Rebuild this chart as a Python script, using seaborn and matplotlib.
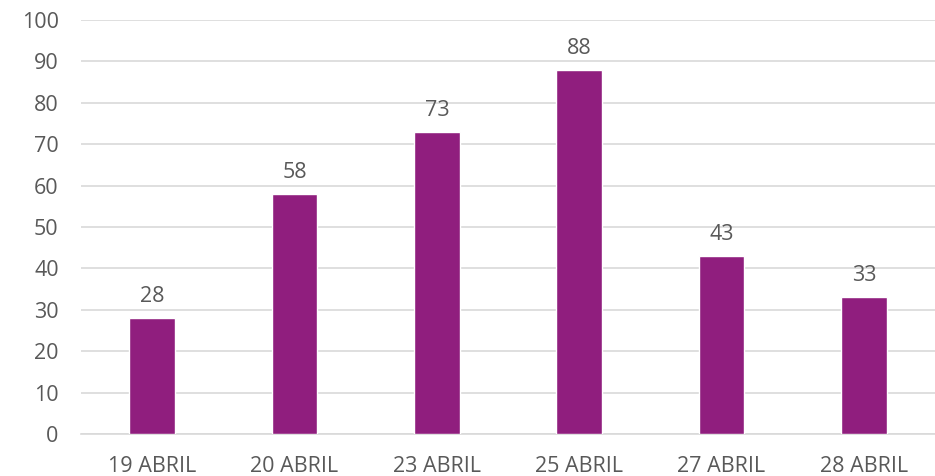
import matplotlib
matplotlib.use("Agg")
import pandas as pd
import seaborn as sns
import matplotlib.pyplot as plt

# data
dias = ["19 ABRIL", "20 ABRIL", "23 ABRIL", "25 ABRIL", "27 ABRIL", "28 ABRIL"]
valores = [28, 58, 73, 88, 43, 33]
yticks = list(range(0, 101, 10))

df = pd.DataFrame({"dia": dias, "valor": valores})

sns.set_theme(style="white")
plt.rcParams["font.family"] = ["Open Sans", "DejaVu Sans"]

text_col = "#595959"
grid_col = "#D9D9D9"

fig = plt.figure(figsize=(9.35, 4.76), dpi=100)
ax = fig.add_axes([0.0866, 0.088, 0.9134, 0.87])

sns.barplot(data=df, x="dia", y="valor", color="#901E7E", width=0.32,
            saturation=1, ax=ax, zorder=3)

ax.set_ylim(0, 100)
ax.set_yticks(yticks)
ax.set_xlim(-0.5, len(dias) - 0.5)
ax.set_xlabel("")
ax.set_ylabel("")

ax.yaxis.grid(True, color=grid_col, linewidth=1.2, zorder=0)
ax.set_axisbelow(True)
for s in ["top", "right", "left"]:
    ax.spines[s].set_visible(False)
ax.spines["bottom"].set_color(grid_col)
ax.spines["bottom"].set_linewidth(1.2)

ax.tick_params(axis="y", length=0, pad=16, labelsize=15.5, labelcolor=text_col)
ax.tick_params(axis="x", length=0, pad=16, labelsize=15.5, labelcolor=text_col)

# value labels above bars
for i, v in enumerate(valores):
    ax.annotate(str(v), (i, v), xytext=(0, 8), textcoords="offset points",
                ha="center", va="bottom", fontsize=15.5, color=text_col)

fig.savefig("out.png", dpi=100)
